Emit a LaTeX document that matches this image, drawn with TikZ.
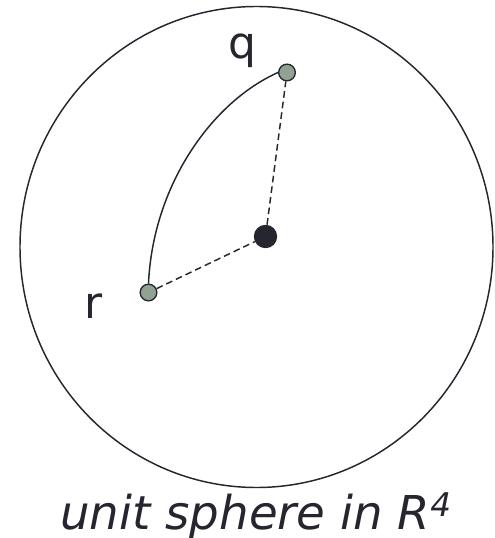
\documentclass[tikz,border=0pt]{standalone}
\usepackage{fontspec}
\setmainfont{DejaVu Sans}
\definecolor{ink}{RGB}{38,38,48}
\definecolor{ptgray}{RGB}{146,162,146}
\tikzset{
  pt/.style={circle, draw=ink, fill=ptgray, line width=1pt, minimum size=12.5pt, inner sep=0pt},
  origin/.style={circle, fill=ink, minimum size=17.5pt, inner sep=0pt},
  lbl/.style={text=ink, font=\fontsize{33}{38}\selectfont, anchor=base},
  radius/.style={ink, line width=1.1pt, dash pattern=on 5pt off 3pt}
}
\begin{document}
\begin{tikzpicture}[x=0.75pt, y=-0.75pt]
    \useasboundingbox (0,0) rectangle (494,538);
    \draw[ink, line width=1.1pt] (256.5,247) ellipse [x radius=236.5, y radius=240.5];
    \node[origin] (o) at (265.5,236.5) {};
    \node[pt] (q) at (287,72.5) {};
    \node[pt] (r) at (148.5,292.5) {};
    \draw[radius] (r) -- (o);
    \draw[radius] (o) -- (q);
    \draw[ink, line width=1.1pt] (r.north) .. controls (153,185) and (212,102) .. (q.west);
    \node[lbl] (qname) at (242.5,58.5) {q};
    \node[lbl] (rname) at (93.5,318) {r};
    \node[lbl, font=\fontsize{35}{42}\selectfont\itshape] (caption) at (256,529) {unit sphere in R\textsuperscript{4}};
  \end{tikzpicture}
\end{document}
